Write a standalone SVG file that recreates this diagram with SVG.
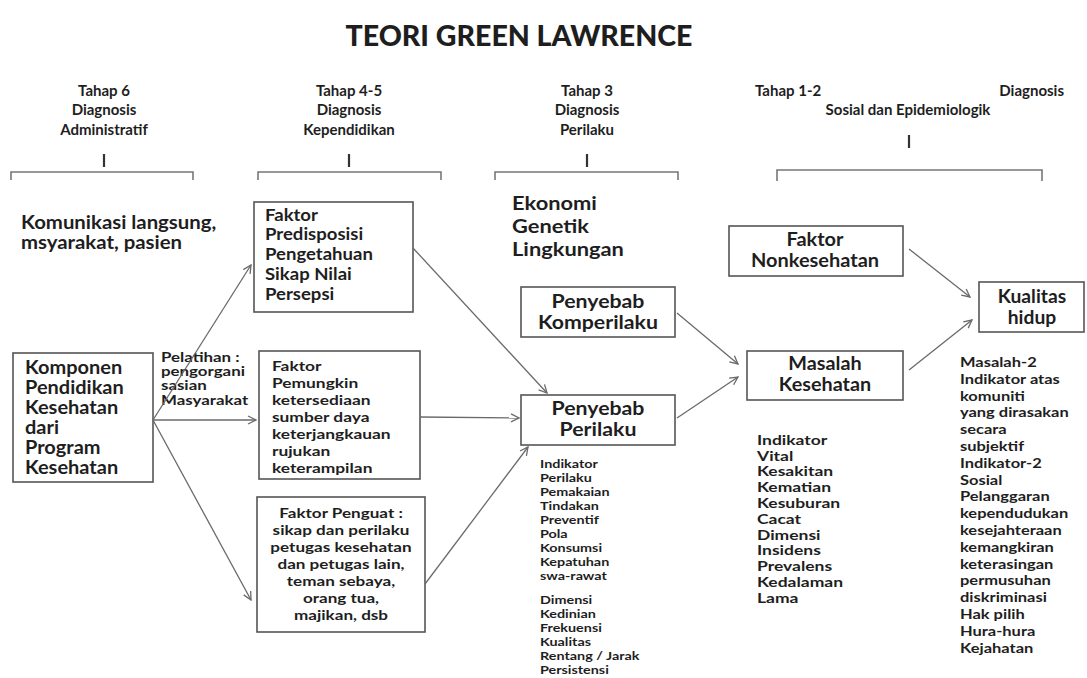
<svg xmlns="http://www.w3.org/2000/svg" width="1087" height="678" viewBox="0 0 1087 678">
<style>
text{font-family:Lato,"Open Sans","Liberation Sans",sans-serif;font-weight:bold;fill:#1e1e1e}
.title{font-size:28px;font-weight:900}
.h{font-size:15px;text-anchor:middle}
.hl{font-size:15px}
.big{font-size:18.5px}
.pre{font-size:17.5px}
.eko{font-size:19.5px}
.bigc{font-size:18.5px;text-anchor:middle}
.mid{font-size:14px}
.midc{font-size:14px;text-anchor:middle}
.sm{font-size:13.5px}
.sm2{font-size:14px}
.xs{font-size:11.5px}
.box{fill:#fff;stroke:#555;stroke-width:1.6}
.br{fill:none;stroke:#777;stroke-width:1.6}
.tick{stroke:#333;stroke-width:2.2}
.con{fill:none;stroke:#6a6a6a;stroke-width:1.3;marker-end:url(#ah)}
</style>
<defs>
<marker id="ah" viewBox="0 0 10 10" refX="9" refY="5" markerWidth="10" markerHeight="10" markerUnits="userSpaceOnUse" orient="auto">
<path d="M1,1 L9,5 L1,9" fill="none" stroke="#6a6a6a" stroke-width="1.3"/>
</marker>
</defs>
<rect width="1087" height="678" fill="#fff"/>
<text class="title" x="519" y="46" text-anchor="middle" textLength="347" lengthAdjust="spacingAndGlyphs">TEORI GREEN LAWRENCE</text>

<g id="headers">
<text class="h" x="104" y="96">Tahap 6</text>
<text class="h" x="104" y="115">Diagnosis</text>
<text class="h" x="104" y="135">Administratif</text>
<line class="tick" x1="104" y1="154" x2="104" y2="167"/>
<path class="br" d="M11,180 V172 H193 V180"/>
<text class="h" x="349" y="96">Tahap 4-5</text>
<text class="h" x="349" y="115">Diagnosis</text>
<text class="h" x="349" y="135">Kependidikan</text>
<line class="tick" x1="349" y1="154" x2="349" y2="167"/>
<path class="br" d="M258,180 V172 H441 V180"/>
<text class="h" x="587" y="96">Tahap 3</text>
<text class="h" x="587" y="115">Diagnosis</text>
<text class="h" x="587" y="135">Perilaku</text>
<line class="tick" x1="587" y1="154" x2="587" y2="167"/>
<path class="br" d="M495,180 V172 H678 V180"/>
<text class="hl" x="755" y="96">Tahap 1-2</text>
<text class="hl" x="1064" y="96" text-anchor="end">Diagnosis</text>
<text class="h" x="908" y="115">Sosial dan Epidemiologik</text>
<line class="tick" x1="909" y1="135" x2="909" y2="148"/>
<path class="br" d="M777,181 V170 H1042 V181"/>
</g>

<g id="komunikasi" transform="matrix(1.1,0,0,1,-2.1,0)">
<text class="big" x="21" y="229">Komunikasi langsung,</text>
<text class="big" x="21" y="249">msyarakat, pasien</text>
</g>

<g id="komponen">
<rect class="box" x="13" y="353" width="140" height="129"/>
<g transform="matrix(1.08,0,0,1,-2,0)">
<text class="big" x="25" y="374">Komponen</text>
<text class="big" x="25" y="394">Pendidikan</text>
<text class="big" x="25" y="414">Kesehatan</text>
<text class="big" x="25" y="434">dari</text>
<text class="big" x="25" y="454">Program</text>
<text class="big" x="25" y="474">Kesehatan</text>
</g>
</g>

<g id="pelatihan" transform="matrix(1.25,0,0,1,-40.25,0)">
<text class="sm" x="161" y="362">Pelatihan :</text>
<text class="sm" x="161" y="376">pengorgani</text>
<text class="sm" x="161" y="390">sasian</text>
<text class="sm" x="161" y="405">Masyarakat</text>
</g>

<g id="predisposisi">
<rect class="box" x="254" y="202" width="159" height="110"/>
<g transform="matrix(1.06,0,0,1,-15.9,0)">
<text class="pre" x="265" y="221">Faktor</text>
<text class="pre" x="265" y="240.5">Predisposisi</text>
<text class="pre" x="265" y="260">Pengetahuan</text>
<text class="pre" x="265" y="280">Sikap Nilai</text>
<text class="pre" x="265" y="300">Persepsi</text>
</g>
</g>

<g id="pemungkin">
<rect class="box" x="259" y="351" width="161" height="128"/>
<g transform="matrix(1.24,0,0,1,-65.3,0)">
<text class="mid" x="272" y="371">Faktor</text>
<text class="mid" x="272" y="388">Pemungkin</text>
<text class="mid" x="272" y="405">ketersediaan</text>
<text class="mid" x="272" y="422">sumber daya</text>
<text class="mid" x="272" y="439">keterjangkauan</text>
<text class="mid" x="272" y="456">rujukan</text>
<text class="mid" x="272" y="473">keterampilan</text>
</g>
</g>

<g id="penguat">
<rect class="box" x="257" y="497" width="168" height="135"/>
<g transform="matrix(1.22,0,0,1,-75,0)">
<text class="midc" x="341" y="518">Faktor Penguat :</text>
<text class="midc" x="341" y="535">sikap dan perilaku</text>
<text class="midc" x="341" y="552">petugas kesehatan</text>
<text class="midc" x="341" y="569">dan petugas lain,</text>
<text class="midc" x="341" y="586">teman sebaya,</text>
<text class="midc" x="341" y="603">orang tua,</text>
<text class="midc" x="341" y="620">majikan, dsb</text>
</g>
</g>

<g id="ekonomi" transform="matrix(1.12,0,0,1,-61.4,0)">
<text class="eko" x="512" y="210">Ekonomi</text>
<text class="eko" x="512" y="233">Genetik</text>
<text class="eko" x="512" y="256">Lingkungan</text>
</g>

<g id="komperilaku">
<rect class="box" x="521" y="287" width="154" height="50"/>
<g transform="matrix(1.15,0,0,1,-89.7,0)">
<text class="bigc" x="598" y="308">Penyebab</text>
<text class="bigc" x="598" y="329">Komperilaku</text>
</g>
</g>

<g id="perilaku">
<rect class="box" x="521" y="395" width="154" height="50"/>
<g transform="matrix(1.15,0,0,1,-89.7,0)">
<text class="bigc" x="598" y="415">Penyebab</text>
<text class="bigc" x="598" y="436">Perilaku</text>
</g>
</g>

<g id="indikator-perilaku" transform="matrix(1.25,0,0,1,-135,0)">
<text class="xs" x="540" y="468">Indikator</text>
<text class="xs" x="540" y="482">Perilaku</text>
<text class="xs" x="540" y="496">Pemakaian</text>
<text class="xs" x="540" y="510">Tindakan</text>
<text class="xs" x="540" y="524">Preventif</text>
<text class="xs" x="540" y="538">Pola</text>
<text class="xs" x="540" y="552">Konsumsi</text>
<text class="xs" x="540" y="566">Kepatuhan</text>
<text class="xs" x="540" y="580">swa-rawat</text>
<text class="xs" x="540" y="604">Dimensi</text>
<text class="xs" x="540" y="618">Kedinian</text>
<text class="xs" x="540" y="632">Frekuensi</text>
<text class="xs" x="540" y="646">Kualitas</text>
<text class="xs" x="540" y="660">Rentang / Jarak</text>
<text class="xs" x="540" y="674">Persistensi</text>
</g>

<g id="nonkesehatan">
<rect class="box" x="729" y="226" width="174" height="50"/>
<g transform="matrix(1.08,0,0,1,-65.2,0)">
<text class="bigc" x="815" y="246">Faktor</text>
<text class="bigc" x="815" y="267">Nonkesehatan</text>
</g>
</g>

<g id="masalah">
<rect class="box" x="747" y="351" width="156" height="49"/>
<g transform="matrix(1.07,0,0,1,-57.75,0)">
<text class="bigc" x="825" y="370">Masalah</text>
<text class="bigc" x="825" y="391">Kesehatan</text>
</g>
</g>

<g id="kualitas">
<rect class="box" x="979" y="282" width="105" height="50"/>
<g transform="matrix(1.04,0,0,1,-41.3,0)">
<text class="bigc" x="1032" y="303">Kualitas</text>
<text class="bigc" x="1032" y="324">hidup</text>
</g>
</g>

<g id="indikator-masalah" transform="matrix(1.25,0,0,1,-189.25,0)">
<text class="sm2" x="757" y="445">Indikator</text>
<text class="sm2" x="757" y="461">Vital</text>
<text class="sm2" x="757" y="476">Kesakitan</text>
<text class="sm2" x="757" y="492">Kematian</text>
<text class="sm2" x="757" y="508">Kesuburan</text>
<text class="sm2" x="757" y="524">Cacat</text>
<text class="sm2" x="757" y="540">Dimensi</text>
<text class="sm2" x="757" y="555">Insidens</text>
<text class="sm2" x="757" y="571">Prevalens</text>
<text class="sm2" x="757" y="587">Kedalaman</text>
<text class="sm2" x="757" y="603">Lama</text>
</g>

<g id="indikator-kualitas" transform="matrix(1.22,0,0,1,-211.2,0)">
<text class="sm" x="960" y="367">Masalah-2</text>
<text class="sm" x="960" y="384">Indikator atas</text>
<text class="sm" x="960" y="401">komuniti</text>
<text class="sm" x="960" y="417">yang dirasakan</text>
<text class="sm" x="960" y="434">secara</text>
<text class="sm" x="960" y="451">subjektif</text>
<text class="sm" x="960" y="468">Indikator-2</text>
<text class="sm" x="960" y="485">Sosial</text>
<text class="sm" x="960" y="501">Pelanggaran</text>
<text class="sm" x="960" y="518">kependudukan</text>
<text class="sm" x="960" y="535">kesejahteraan</text>
<text class="sm" x="960" y="552">kemangkiran</text>
<text class="sm" x="960" y="569">keterasingan</text>
<text class="sm" x="960" y="585">permusuhan</text>
<text class="sm" x="960" y="602">diskriminasi</text>
<text class="sm" x="960" y="619">Hak pilih</text>
<text class="sm" x="960" y="636">Hura-hura</text>
<text class="sm" x="960" y="653">Kejahatan</text>
</g>

<g id="connectors">
<line class="con" x1="153" y1="420" x2="251" y2="265"/>
<line class="con" x1="153" y1="420" x2="256" y2="420"/>
<line class="con" x1="153" y1="420" x2="251" y2="600"/>
<line class="con" x1="413" y1="248" x2="547" y2="393"/>
<line class="con" x1="420" y1="417" x2="519" y2="418"/>
<line class="con" x1="425" y1="584" x2="528" y2="447"/>
<line class="con" x1="677" y1="313" x2="738" y2="364"/>
<line class="con" x1="677" y1="418" x2="738" y2="377"/>
<line class="con" x1="909" y1="249" x2="970" y2="297"/>
<line class="con" x1="909" y1="370" x2="972" y2="320"/>
</g>
</svg>
